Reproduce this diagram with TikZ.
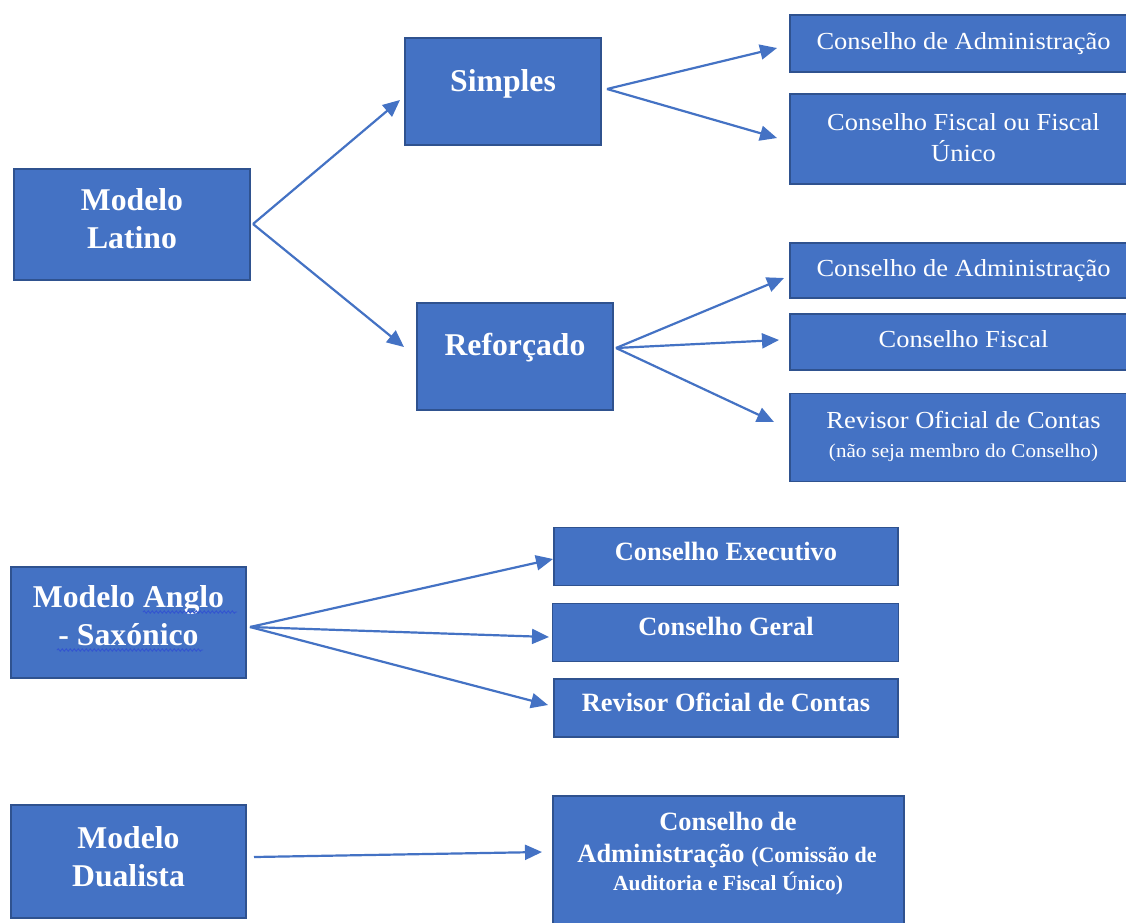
\documentclass[tikz,border=0pt]{standalone}
\usepackage{fontspec}
\setmainfont{Liberation Serif}
\newfontfamily\regf{Liberation Serif}[FakeStretch=1.08]
\usetikzlibrary{arrows.meta,decorations.pathmorphing}
\definecolor{boxfill}{HTML}{4472C4}
\definecolor{boxline}{HTML}{2F528F}
\definecolor{arrowc}{HTML}{4472C4}
\definecolor{squig}{HTML}{3355D0}
\tikzset{
  box/.style={draw=boxline, fill=boxfill, line width=1.3pt, anchor=north west, inner sep=0pt, outer sep=0pt},
  bigtxt/.style={text=white, anchor=base, inner sep=0pt, font=\bfseries\fontsize{31.7}{38}\selectfont},
  midtxt/.style={text=white, anchor=base, inner sep=0pt, font=\bfseries\fontsize{26.4}{30}\selectfont},
  regtxt/.style={text=white, anchor=base, inner sep=0pt, font=\regf\fontsize{24.5}{30}\selectfont},
  smalltxt/.style={text=white, anchor=base, inner sep=0pt, font=\regf\fontsize{19.5}{22}\selectfont},
  arr/.style={draw=arrowc, line width=2.2pt, -{Triangle[length=17pt,width=15pt]}},
  squiggle/.style={draw=squig, line width=0.9pt, decorate, decoration={snake, amplitude=1.2pt, segment length=4pt}},
}
\begin{document}
\begin{tikzpicture}[x=1pt,y=-1pt]
\useasboundingbox (0,0) rectangle (1126,922);
\fill[white] (0,0) rectangle (1126,922);
\begin{scope}
\clip (0,0) rectangle (1126,922);
% boxes
\node[box, minimum width=236pt, minimum height=111pt] (lat) at (14,169) {};
\node[box, minimum width=196pt, minimum height=107pt] (simp) at (405,38) {};
\node[box, minimum width=196pt, minimum height=107pt] (ref) at (417,303) {};
\node[box, minimum width=350pt, minimum height=57pt] (cda1) at (790,15) {};
\node[box, minimum width=350pt, minimum height=90pt] (cffu) at (790,94) {};
\node[box, minimum width=350pt, minimum height=55pt] (cda2) at (790,243) {};
\node[box, minimum width=350pt, minimum height=56pt] (cf) at (790,314) {};
\node[box, minimum width=350pt, minimum height=88pt] (roc1) at (790,393.5) {};
\node[box, minimum width=235pt, minimum height=111pt] (ang) at (11,567) {};
\node[box, minimum width=344pt, minimum height=58pt] (cex) at (554,527.5) {};
\node[box, minimum width=346pt, minimum height=58pt] (cg) at (552.5,603.5) {};
\node[box, minimum width=344pt, minimum height=58pt] (roc2) at (554,679) {};
\node[box, minimum width=235pt, minimum height=113pt] (dua) at (11,805) {};
\node[box, minimum width=351pt, minimum height=150pt] (cdad) at (553,796) {};
% texts
\node[bigtxt] (lat-t1) at (132,210) {Modelo};
\node[bigtxt] (lat-t2) at (132,248) {Latino};
\node[bigtxt] (simp-t) at (503,91) {Simples};
\node[bigtxt] (ref-t) at (515,355) {Reforçado};
\node[regtxt] (cda1-t) at (963.5,49) {Conselho de Administração};
\node[regtxt] (cffu-t1) at (963.5,130) {Conselho Fiscal ou Fiscal};
\node[regtxt] (cffu-t2) at (963.5,161) {Único};
\node[regtxt] (cda2-t) at (963.5,276) {Conselho de Administração};
\node[regtxt] (cf-t) at (963.5,347) {Conselho Fiscal};
\node[regtxt] (roc1-t1) at (963.5,428) {Revisor Oficial de Contas};
\node[smalltxt] (roc1-t2) at (963.5,457) {(não seja membro do Conselho)};
\node[bigtxt] (ang-t1) at (128.5,607) {Modelo Anglo};
\node[bigtxt] (ang-t2) at (128.5,645) {- Saxónico};
\node[midtxt] (cex-t) at (726,560) {Conselho Executivo};
\node[midtxt] (cg-t) at (726,635) {Conselho Geral};
\node[midtxt] (roc2-t) at (726,711) {Revisor Oficial de Contas};
\node[bigtxt] (dua-t1) at (128.5,848) {Modelo};
\node[bigtxt] (dua-t2) at (128.5,886) {Dualista};
\node[midtxt] (cdad-t1) at (728,830) {Conselho de};
\node[midtxt] (cdad-t2) at (727,862) {Administração {\fontsize{22}{24}\selectfont(Comissão de}};
\node[midtxt] (cdad-t3) at (728,890) {\fontsize{21.5}{24}\selectfont Auditoria e Fiscal Único)};
% grammar squiggles
\draw[squiggle] (143,612) -- (237,612);
\draw[squiggle] (57,650) -- (203,650);
% connector end points
\coordinate (lat-o) at (253,224);
\coordinate (simp-i) at (400,100);
\coordinate (ref-i) at (404,347);
\coordinate (simp-o) at (607,89);
\coordinate (cda1-i) at (777,48);
\coordinate (cffu-i) at (777,138);
\coordinate (ref-o) at (616,348);
\coordinate (cda2-i) at (784,278);
\coordinate (cf-i) at (779,340);
\coordinate (roc1-i) at (774,422);
\coordinate (ang-o) at (250,627);
\coordinate (cex-i) at (553,559);
\coordinate (cg-i) at (549,637);
\coordinate (roc2-i) at (548,705);
\coordinate (dua-o) at (254,857);
\coordinate (cdad-i) at (542,852);
% connectors
\draw[arr] (lat-o) -- (simp-i);
\draw[arr] (lat-o) -- (ref-i);
\draw[arr] (simp-o) -- (cda1-i);
\draw[arr] (simp-o) -- (cffu-i);
\draw[arr] (ref-o) -- (cda2-i);
\draw[arr] (ref-o) -- (cf-i);
\draw[arr] (ref-o) -- (roc1-i);
\draw[arr] (ang-o) -- (cex-i);
\draw[arr] (ang-o) -- (cg-i);
\draw[arr] (ang-o) -- (roc2-i);
\draw[arr] (dua-o) -- (cdad-i);
\end{scope}
\end{tikzpicture}
\end{document}
